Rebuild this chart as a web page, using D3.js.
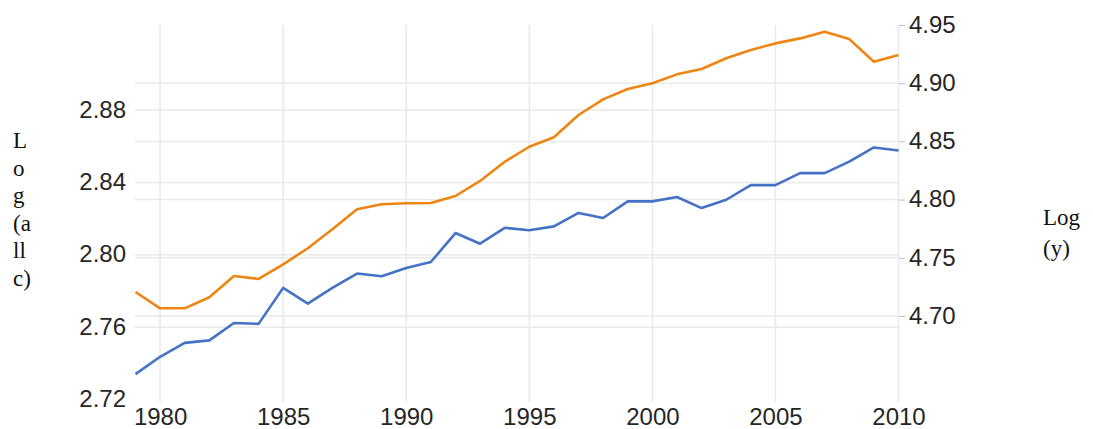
<!DOCTYPE html>
<html>
<head>
<meta charset="utf-8">
<script src="https://cdn.jsdelivr.net/npm/d3@7"></script>
<style>
  body { margin: 0; background: #fff; }
  svg { display: block; }
</style>
</head>
<body>
<div id="vis"></div>
<script>
// years and the two series
let years = d3.range(1979, 2011)
let logC = [2.734, 2.7436, 2.7513, 2.7527, 2.7623, 2.7618, 2.7817, 2.7730, 2.7817, 2.7896,
            2.7881, 2.7927, 2.7960, 2.8120, 2.8061, 2.8149, 2.8135, 2.8157, 2.8231, 2.8203,
            2.8295, 2.8295, 2.8319, 2.8258, 2.8304, 2.8385, 2.8385, 2.8451, 2.8451, 2.8515,
            2.8593, 2.8576]
let logY = [4.7206, 4.7066, 4.7066, 4.7161, 4.7344, 4.7318, 4.7444, 4.7582, 4.7745, 4.7917,
            4.7960, 4.7968, 4.7971, 4.8031, 4.8160, 4.8325, 4.8454, 4.8535, 4.8727, 4.8861,
            4.8950, 4.8999, 4.9076, 4.9122, 4.9214, 4.9285, 4.9342, 4.9385, 4.9442, 4.9379,
            4.9184, 4.9242]
let xTicks = [1980, 1985, 1990, 1995, 2000, 2005, 2010]
let leftTicks = [2.72, 2.76, 2.80, 2.84, 2.88]
let rightTicks = [4.70, 4.75, 4.80, 4.85, 4.90, 4.95]

config = {}
config.width = 1093
config.height = 429

let x = d3.scaleLinear().domain([1979, 2010]).range([135.5, 898.5])
let yL = d3.scaleLinear().domain([2.72, 2.88]).range([399.5, 110])
let yR = d3.scaleLinear().domain([4.70, 4.95]).range([316, 25])

let svg = d3.select("#vis")
    .append("svg")
    .attr("width", config.width)
    .attr("height", config.height)

let grid = svg.append("g")
    .attr("stroke", "#e9e9e9")
    .attr("stroke-width", 1.5)

grid.selectAll("line.v")
    .data(xTicks)
    .join("line")
    .attr("class", "v")
    .attr("x1", d => x(d)).attr("x2", d => x(d))
    .attr("y1", 25).attr("y2", 402)

grid.selectAll("line.l")
    .data(leftTicks.filter(d => d > 2.72))
    .join("line")
    .attr("class", "l")
    .attr("x1", 135).attr("x2", 899)
    .attr("y1", d => yL(d)).attr("y2", d => yL(d))

grid.selectAll("line.r")
    .data(rightTicks.filter(d => d < 4.95))
    .join("line")
    .attr("class", "r")
    .attr("x1", 135).attr("x2", 899)
    .attr("y1", d => yR(d)).attr("y2", d => yR(d))

// left axis
let gl = svg.append("g")
    .attr("transform", "translate(126,0)")
    .call(d3.axisLeft(yL).tickValues(leftTicks).tickSize(0).tickPadding(0).tickFormat(d3.format(".2f")))
gl.select(".domain").remove()
gl.selectAll("text")
    .attr("font-family", "Liberation Sans, Arial, sans-serif")
    .attr("font-size", 24)
    .attr("fill", "#262626")
    .attr("dy", "0.3em")

// right axis
let gr = svg.append("g")
    .attr("transform", "translate(899,0)")
    .call(d3.axisRight(yR).tickValues(rightTicks).tickSize(6).tickPadding(4).tickFormat(d3.format(".2f")))
gr.select(".domain").remove()
gr.selectAll("line").attr("stroke", "#bdbdbd")
gr.selectAll("text")
    .attr("font-family", "Liberation Sans, Arial, sans-serif")
    .attr("font-size", 24)
    .attr("fill", "#262626")
    .attr("dy", "0.3em")

// x axis
let gx = svg.append("g")
    .attr("transform", "translate(0,402)")
    .call(d3.axisBottom(x).tickValues(xTicks).tickSize(0).tickPadding(0).tickFormat(d3.format("d")))
gx.select(".domain").remove()
gx.selectAll("text")
    .attr("font-family", "Liberation Sans, Arial, sans-serif")
    .attr("font-size", 24)
    .attr("fill", "#262626")
    .attr("dy", "0.95em")

// lines
let lineC = d3.line().x((d, i) => x(years[i])).y(d => yL(d))
let lineY = d3.line().x((d, i) => x(years[i])).y(d => yR(d))

svg.append("path")
    .datum(logC)
    .attr("fill", "none")
    .attr("stroke", "#4472c4")
    .attr("stroke-width", 2.6)
    .attr("stroke-linejoin", "round")
    .attr("d", lineC)

svg.append("path")
    .datum(logY)
    .attr("fill", "none")
    .attr("stroke", "#ee8512")
    .attr("stroke-width", 2.6)
    .attr("stroke-linejoin", "round")
    .attr("d", lineY)

// axis titles
let leftTitle = ["L", "o", "g", "(a", "ll", "c)"]
svg.append("g")
    .selectAll("text")
    .data(leftTitle)
    .join("text")
    .attr("x", 13)
    .attr("y", (d, i) => 148 + i * 27.5)
    .attr("font-family", "Liberation Serif, Times New Roman, serif")
    .attr("font-size", 23)
    .attr("fill", "#111")
    .text(d => d)

let rightTitle = ["Log", "(y)"]
svg.append("g")
    .selectAll("text")
    .data(rightTitle)
    .join("text")
    .attr("x", 1043)
    .attr("y", (d, i) => 225 + i * 31)
    .attr("font-family", "Liberation Serif, Times New Roman, serif")
    .attr("font-size", 23)
    .attr("fill", "#111")
    .text(d => d)
</script>
</body>
</html>
